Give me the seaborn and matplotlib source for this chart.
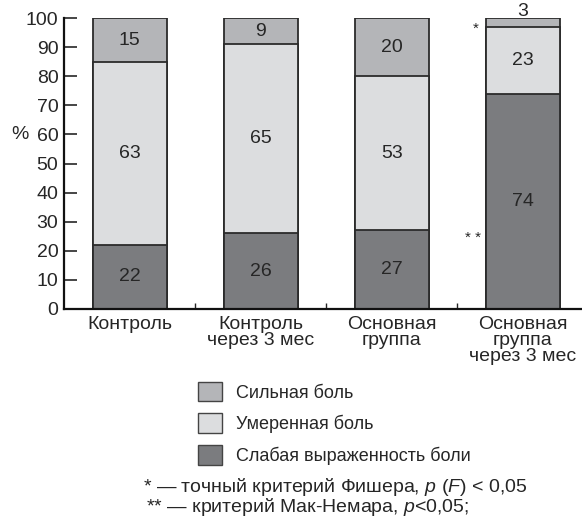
import matplotlib
matplotlib.use("Agg")
import matplotlib.pyplot as plt
import numpy as np
import pandas as pd
import seaborn as sns
from matplotlib.patches import Patch
from matplotlib.ticker import MultipleLocator, FixedLocator

# данные
groups = ["Контроль", "Контроль\nчерез 3 мес", "Основная\nгруппа", "Основная\nгруппа\nчерез 3 мес"]
strong = [15, 9, 20, 3]
moderate = [63, 65, 53, 23]
weak = [22, 26, 27, 74]
legend_labels = ["Сильная боль", "Умеренная боль", "Слабая выраженность боли"]

c_strong = "#b4b5b8"
c_mod = "#dcdddf"
c_weak = "#7b7c7f"
edge = "#2b2b2b"

sns.set_style("ticks")
plt.rcParams['font.family'] = ['Liberation Sans', 'DejaVu Sans']
plt.rcParams['mathtext.fontset'] = 'custom'
plt.rcParams['mathtext.rm'] = 'Liberation Sans'
plt.rcParams['mathtext.it'] = 'Liberation Sans:italic'

df = pd.DataFrame({'group': groups, 'strong': strong, 'moderate': moderate, 'weak': weak})
df['total'] = df.strong + df.moderate + df.weak
df['mid'] = df.moderate + df.weak

fig = plt.figure(figsize=(5.82, 5.2), dpi=100)
ax = fig.add_axes([0.110, 0.406, 0.89, 0.559])

# stacked bars drawn as overlapping cumulative bars
for col, c in [('total', c_strong), ('mid', c_mod), ('weak', c_weak)]:
    sns.barplot(data=df, x='group', y=col, color=c, width=0.565,
                edgecolor=edge, linewidth=1.3, saturation=1, ax=ax)

fs = 14
# value labels
for i in range(len(groups)):
    ax.text(i, weak[i] / 2, str(weak[i]), ha='center', va='center', fontsize=fs)
    ax.text(i, weak[i] + moderate[i] / 2, str(moderate[i]), ha='center', va='center', fontsize=fs)
    if strong[i] >= 5:
        ax.text(i, weak[i] + moderate[i] + strong[i] / 2, str(strong[i]),
                ha='center', va='center', fontsize=fs)
    else:
        ax.text(i, 102.3, str(strong[i]), ha='center', va='center', fontsize=fs)

# significance marks
ax.text(2.64, 96.5, "*", ha='center', va='center', fontsize=11)
ax.text(2.62, 24.5, "* *", ha='center', va='center', fontsize=11)

ax.set_xlim(-0.5, 3.45)
ax.set_ylim(0, 100)
ax.set_xlabel("")
ax.set_ylabel("%", rotation=0, fontsize=fs, va='center')
ax.yaxis.set_label_coords(-0.085, 0.60)
ax.yaxis.set_major_locator(MultipleLocator(10))
ax.tick_params(axis='y', direction='in', length=9.5, width=1.2, labelsize=fs, pad=4)
ax.tick_params(axis='x', which='major', length=0, labelsize=fs, pad=5)
ax.xaxis.set_minor_locator(FixedLocator([0.5, 1.5, 2.5]))
ax.tick_params(axis='x', which='minor', direction='in', length=4.5, width=1.0, bottom=True)
for lbl in ax.get_xticklabels():
    lbl.set_linespacing(0.92)

for s in ['top', 'right']:
    ax.spines[s].set_visible(False)
for s in ['left', 'bottom']:
    ax.spines[s].set_linewidth(1.6)
    ax.spines[s].set_color('#111111')

# legend
handles = [Patch(facecolor=c, edgecolor='#444444', linewidth=1.0) for c in [c_strong, c_mod, c_weak]]
fig.legend(handles, legend_labels, loc='upper left', bbox_to_anchor=(0.341, 0.266),
           frameon=False, fontsize=13, handlelength=1.3, handleheight=1.3,
           handletextpad=0.8, labelspacing=0.66, borderaxespad=0, borderpad=0)

# footnotes
fig.text(0.246, 0.063, r"* — точный критерий Фишера, $\it{p\ (F)}$ < 0,05", fontsize=14, va='center')
fig.text(0.250, 0.025, r"** — критерий Мак-Немара, $\it{p}$<0,05;", fontsize=14, va='center')

fig.savefig("out.png", dpi=100)
